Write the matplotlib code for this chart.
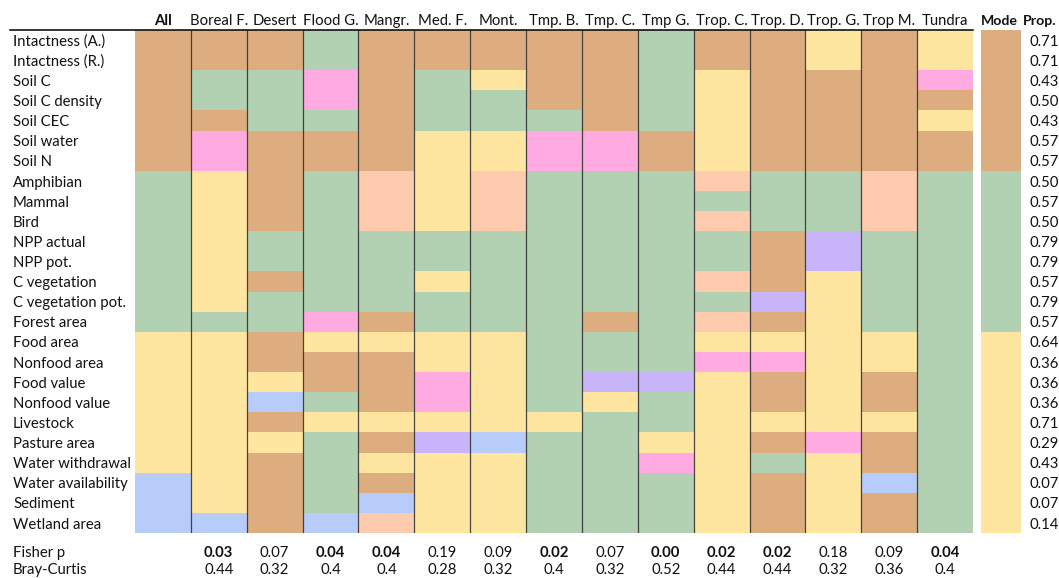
import matplotlib
matplotlib.use("Agg")
import matplotlib.pyplot as plt
import numpy as np
from matplotlib.colors import ListedColormap
from matplotlib.lines import Line2D
import matplotlib.transforms as mtransforms

plt.rcParams['font.family'] = ['Lato', 'DejaVu Sans']

row_labels = ["Intactness (A.)", "Intactness (R.)", "Soil C", "Soil C density", "Soil CEC",
              "Soil water", "Soil N", "Amphibian", "Mammal", "Bird", "NPP actual", "NPP pot.",
              "C vegetation", "C vegetation pot.", "Forest area", "Food area", "Nonfood area",
              "Food value", "Nonfood value", "Livestock", "Pasture area", "Water withdrawal",
              "Water availability", "Sediment", "Wetland area"]

col_labels = ["All", "Boreal F.", "Desert", "Flood G.", "Mangr.", "Med. F.", "Mont.",
              "Tmp. B.", "Tmp. C.", "Tmp G.", "Trop. C.", "Trop. D.", "Trop. G.", "Trop M.", "Tundra"]

# category code per row (top to bottom), one string per column
col_all     = "BBBBBBBGGGGGGGGYYYYYYYUUU"
col_boreal  = "BBGGBPPYYYYYYYGYYYYYYYYYU"
col_desert  = "BBGGGBBBBBGGBGGBBYUBYBBBB"
col_flood   = "GGPPGBBGGGGGGGPYBBGYGGGGU"
col_mangr   = "BBBBBBBSSSGGGGBYBBBYBYBUS"
col_medf    = "BBGGGYYYYYGGYGGYYPPYLYYYY"
col_mont    = "BBYGGYYSSSGGGGGYYYYYUYYYY"
col_tmpb    = "BBBBGPPGGGGGGGGGGGGYGGGGG"
col_tmpc    = "BBBBBPPGGGGGGGBGGLYGGGGGG"
col_tmpg    = "GGGGGBBGGGGGGGGGGLGGYPGGG"
col_tropc   = "BBYYYYYSGSGGSGSYPYYYYYYYY"
col_tropd   = "BBBBBBBGGGBBBLBYPBBYBGBBB"
col_tropg   = "YYBBBBBGGGLLYYYYYYYYPYYYY"
col_tropm   = "BBBBBBBSSSGGGGGYYBBYBBUBB"
col_tundra  = "YYPBYBBGGGGGGGGGGGGGGGGGG"
col_mode    = "BBBBBBBGGGGGGGGYYYYYYYYYY"

mode_prop = ["0.71", "0.71", "0.43", "0.50", "0.43", "0.57", "0.57", "0.50", "0.57", "0.50",
             "0.79", "0.79", "0.57", "0.79", "0.57", "0.64", "0.36", "0.36", "0.36", "0.71",
             "0.29", "0.43", "0.07", "0.07", "0.14"]

fisher_p = ["", "0.03", "0.07", "0.04", "0.04", "0.19", "0.09", "0.02", "0.07", "0.00",
            "0.02", "0.02", "0.18", "0.09", "0.04"]
fisher_bold = [False, True, False, True, True, False, False, True, False, True,
               True, True, False, False, True]
bray_curtis = ["", "0.44", "0.32", "0.4", "0.4", "0.28", "0.32", "0.4", "0.32", "0.52",
               "0.44", "0.44", "0.32", "0.36", "0.4"]

codes = "BGYPSLU"
palette = ["#DDAD80", "#B2D0B2", "#FFE6A0", "#FFAAE0", "#FFCBAE", "#C8B4F8", "#B7CCF9"]
cmap = ListedColormap(palette)

columns = [col_all, col_boreal, col_desert, col_flood, col_mangr, col_medf, col_mont,
           col_tmpb, col_tmpc, col_tmpg, col_tropc, col_tropd, col_tropg, col_tropm, col_tundra]
grid = np.array([[codes.index(c) for c in col] for col in columns]).T
mode_grid = np.array([[codes.index(c)] for c in col_mode])

W, H = 1059, 578
fig = plt.figure(figsize=(W / 100, H / 100), dpi=100)

def box(x0, y0, x1, y1):
    return [x0 / W, 1 - y1 / H, (x1 - x0) / W, (y1 - y0) / H]

nrow = len(row_labels)
ncol = len(col_labels)

ax = fig.add_axes(box(135, 30, 973, 533))
ax.pcolormesh(np.arange(ncol + 1), np.arange(nrow + 1), grid, cmap=cmap, vmin=-0.5,
              vmax=len(codes) - 0.5, shading='flat')
ax.set_xlim(0, ncol)
ax.set_ylim(nrow, 0)
ax.axis('off')
ax.vlines(np.arange(1, ncol), 0, nrow, color='#333333', lw=0.9, alpha=0.9)

axm = fig.add_axes(box(981, 30, 1021, 533))
axm.pcolormesh(np.arange(2), np.arange(nrow + 1), mode_grid, cmap=cmap, vmin=-0.5,
               vmax=len(codes) - 0.5, shading='flat')
axm.set_xlim(0, 1)
axm.set_ylim(nrow, 0)
axm.axis('off')

fs = 10.7
tc = '#111111'
dy = 0.08  # text baseline offset (rows)
# header line
fig.add_artist(Line2D([10 / W, 973 / W], [1 - 29.5 / H] * 2, color='black', lw=1.1))

# row labels
trans_rows = mtransforms.blended_transform_factory(fig.transFigure, ax.transData)
for i, lab in enumerate(row_labels):
    ax.text(13 / W, i + 0.5 + dy, lab, transform=trans_rows, ha='left', va='center',
            fontsize=fs, color=tc, clip_on=False)

# column headers
trans_cols = mtransforms.blended_transform_factory(ax.transData, fig.transFigure)
for j, lab in enumerate(col_labels):
    ax.text(j + 0.5, 1 - 21 / H, lab, transform=trans_cols, ha='center', va='center',
            fontsize=fs, color=tc, fontweight='bold' if j == 0 else 'normal', clip_on=False)
fig.text(999 / W, 1 - 21 / H, "Mode", ha='center', va='center', fontsize=10.2,
         fontweight='bold', color=tc)
fig.text(1057 / W, 1 - 21 / H, "Prop.", ha='right', va='center', fontsize=10.2,
         fontweight='bold', color=tc)

# mode proportions
trans_prop = mtransforms.blended_transform_factory(fig.transFigure, axm.transData)
for i, v in enumerate(mode_prop):
    axm.text(1030 / W, i + 0.5 + dy, v, transform=trans_prop, ha='left', va='center',
             fontsize=fs, color=tc, clip_on=False)

# bottom statistics
y_fisher = nrow + 0.98
y_bray = nrow + 1.85
ax.text(13 / W, y_fisher, "Fisher p", transform=trans_rows, ha='left', va='center',
        fontsize=fs, color=tc, clip_on=False)
ax.text(13 / W, y_bray, "Bray-Curtis", transform=trans_rows, ha='left', va='center',
        fontsize=fs, color=tc, clip_on=False)
for j in range(ncol):
    ax.text(j + 0.5, y_fisher, fisher_p[j], ha='center', va='center', fontsize=fs,
            color=tc, fontweight='bold' if fisher_bold[j] else 'normal', clip_on=False)
    ax.text(j + 0.5, y_bray, bray_curtis[j], ha='center', va='center', fontsize=fs,
            color=tc, clip_on=False)

fig.savefig("out.png", dpi=100)
